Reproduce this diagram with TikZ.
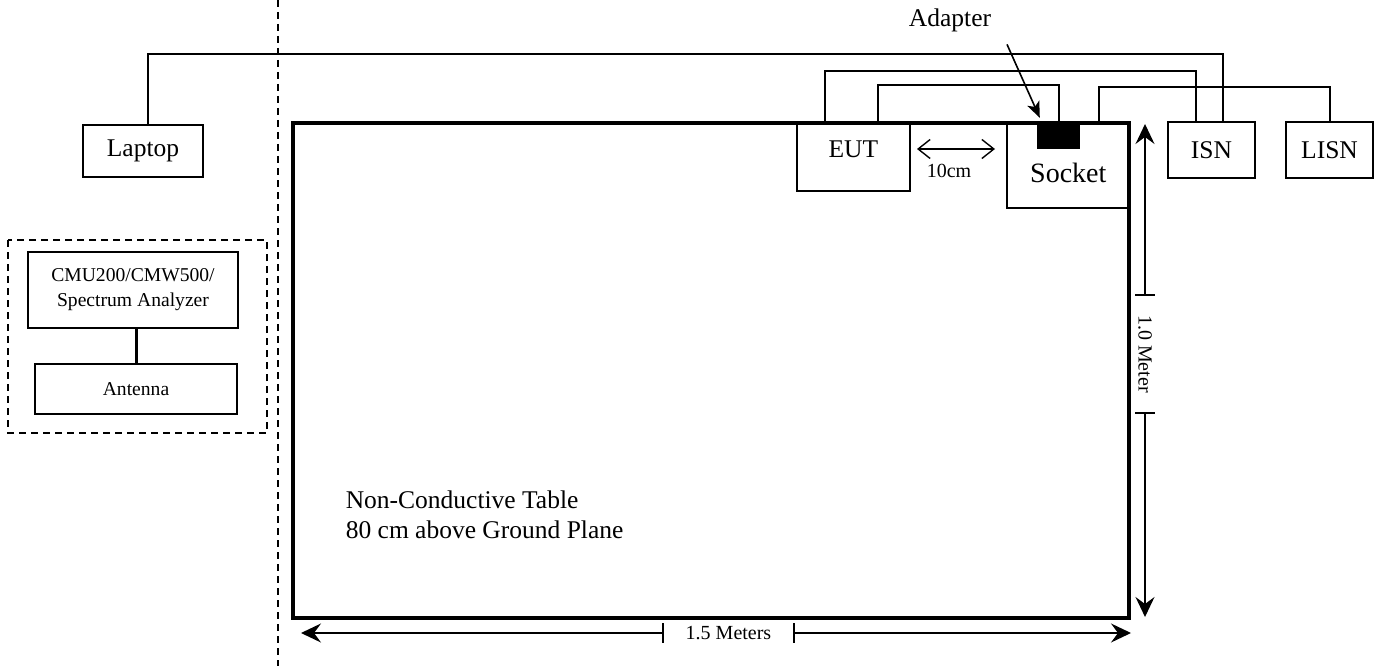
\documentclass[tikz,border=0pt]{standalone}
\usepackage{fontspec}
\setmainfont{Liberation Serif}
\usetikzlibrary{arrows.meta}

\begin{document}
\begin{tikzpicture}[x=1pt, y=-1pt,
    bx/.style={rectangle, draw, line width=1.6pt, inner sep=0pt,
        font=\fontsize{25.5}{30}\selectfont},
    sm/.style={bx, font=\fontsize{19.6}{25}\selectfont, align=center},
    wr/.style={line width=2pt},
    dm/.style={-{Stealth[length=20pt, width=19pt, inset=7pt]}, line width=1.4pt},
    tk/.style={line width=1.4pt},
    gp/.style={{Straight Barb[length=12pt, width=19pt]}-{Straight Barb[length=12pt, width=19pt]}, line width=1.4pt},
    lb/.style={font=\fontsize{20}{24}\selectfont, inner sep=0pt},
    dsh/.style={line width=1.5pt, dash pattern=on 7pt off 5pt}]
\useasboundingbox (0,0) rectangle (1384,666);

% measuring side
\draw[dsh] (278,0) -- (278,666);
\node[bx, minimum width=120pt, minimum height=52pt] (lap) at (143,151) {Laptop};
\draw[dsh] (8,240) rectangle (267,433);
\node[sm, minimum width=210pt, minimum height=76pt] (cmu) at (133,290) {CMU200/CMW500/\\Spectrum Analyzer};
\node[sm, minimum width=202pt, minimum height=50pt] (ant) at (136,389) {Antenna};
\draw[line width=3pt] (ant.north) -- (ant.north |- cmu.south);

% table
\node[draw, line width=3.5pt, minimum width=836pt, minimum height=495pt] (tab) at (711,370.5) {};
\node[bx, draw=none, anchor=west, align=left] (tlb) at (345,515) {Non-Conductive Table\\80 cm above Ground Plane};

\node[bx, minimum width=113pt, text height=34pt, text depth=33pt, anchor=north west] (eut) at (796,123) {EUT};
\node[bx, font=\fontsize{28}{32}\selectfont, minimum width=123pt, text height=59pt, text depth=25pt, anchor=north west] (skt) at (1006,123) {Socket};
\node[fill=black, minimum width=43pt, minimum height=27pt, inner sep=0pt] (adp) at (1058.5,135.5) {};
\node[bx, minimum width=87pt, minimum height=56pt] (isn) at (1211.5,150) {ISN};
\node[bx, minimum width=87pt, minimum height=56pt] (lisn) at (1329.5,150) {LISN};
\node[bx, draw=none] (adt) at (950,20) {Adapter};
\draw[-{Stealth[length=16pt, width=13pt, inset=4pt]}, line width=1.6pt] ([shift={(57,12)}]adt.south) -- ([shift={(3,-4)}]adp.north west);

% cables
\draw[wr] ([xshift=5pt]lap.north) -- ++(0,-70) -| ([xshift=11.5pt]isn.north);
\draw[wr] ([xshift=29pt]eut.north west) -- ++(0,-52) -| ([xshift=29pt]isn.north west);
\draw[wr] ([xshift=82pt]eut.north west) -- ++(0,-38) -| (adp.north);
\draw[wr] ([xshift=93pt]skt.north west) -- ++(0,-36) -| (lisn.north);

% 10cm gap
\coordinate (ga) at (917,149);
\coordinate (gb) at (995,149);
\draw[gp] (ga) -- node[lb, below=14pt, xshift=-7pt] (glb) {10cm} (gb);

% dimensions
\coordinate (hL) at (301,633);
\coordinate (hR) at (1131,633);
\coordinate (hA) at (663,633);
\coordinate (hB) at (794,633);
\path (hA) -- node[lb] (hlb) {1.5 Meters} (hB);
\draw[dm] (hA) -- (hL);
\draw[dm] (hB) -- (hR);
\draw[tk] (hA) ++(0,-10) -- ++(0,20);
\draw[tk] (hB) ++(0,-10) -- ++(0,20);

\coordinate (vT) at (1145,124);
\coordinate (vB) at (1145,617);
\coordinate (vA) at (1145,295);
\coordinate (vC) at (1145,413);
\path (vA) -- node[lb, rotate=-90] (vlb) {1.0 Meter} (vC);
\draw[dm] (vA) -- (vT);
\draw[dm] (vC) -- (vB);
\draw[tk] (vA) ++(-10,0) -- ++(20,0);
\draw[tk] (vC) ++(-10,0) -- ++(20,0);
\end{tikzpicture}
\end{document}
